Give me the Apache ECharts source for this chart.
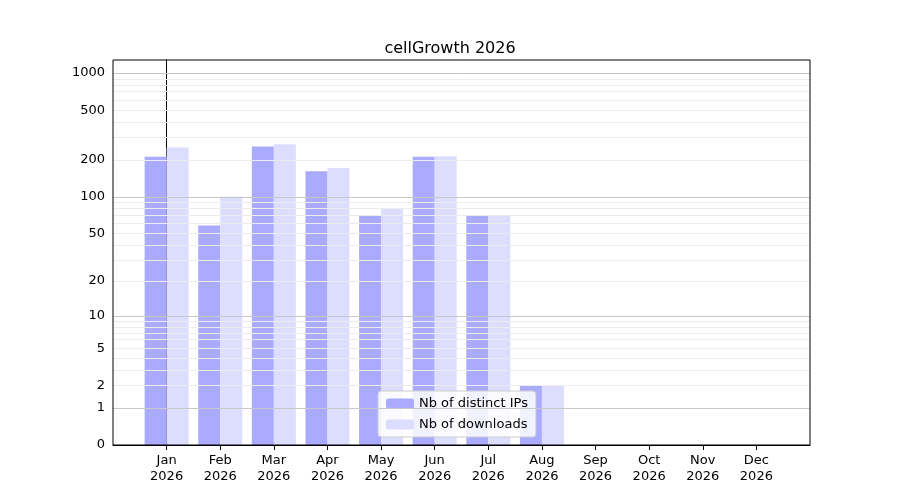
<!DOCTYPE html>
<html>
<head>
<meta charset="utf-8">
<script src="https://cdn.jsdelivr.net/npm/echarts@6/dist/echarts.min.js"></script>
</head>
<body style="margin:0;background:#fff">
<div id="main" style="width:900px;height:500px"></div>
<script>
var months = ['Jan','Feb','Mar','Apr','May','Jun','Jul','Aug','Sep','Oct','Nov','Dec'];
var year = '2026';
var distinctIPs = [210, 58, 255, 160, 70, 210, 70, 2, 0, 0, 0, 0];
var downloads = [250, 100, 265, 170, 80, 212, 70, 2, 0, 0, 0, 0];
var tickValues = [0, 1, 2, 5, 10, 20, 50, 100, 200, 500, 1000];
var majorGrid = [1, 10, 100, 1000];
var minorGrid = [2,3,4,5,6,7,8,9,20,30,40,50,60,70,80,90,200,300,400,500,600,700,800,900];

// axis is log10(1+x)
function t(v) { return Math.log10(1 + v); }
var tickPos = tickValues.map(t);
var monthPos = months.map(function (m, i) { return i; });

var myChart = echarts.init(document.getElementById('main'));
var lineStyleMajor = {color: '#c8c8c8', width: 1, type: 'solid'};
var lineStyleMinor = {color: '#ececec', width: 1, type: 'solid'};
var gridLines = minorGrid.map(function (v) { return {yAxis: t(v), lineStyle: lineStyleMinor}; })
    .concat(majorGrid.map(function (v) { return {yAxis: t(v), lineStyle: lineStyleMajor}; }));

myChart.setOption({
    animation: false,
    title: {text: 'cellGrowth ' + year, left: 'center', top: 36,
        textStyle: {fontFamily: 'DejaVu Sans', fontSize: 16, fontWeight: 'normal', color: '#000'}},
    grid: {left: 113, right: 90, top: 60, bottom: 55, show: true, borderColor: '#000', borderWidth: 1, z: 10},
    legend: {
        orient: 'vertical', left: 378, top: 391,
        backgroundColor: 'rgba(255,255,255,0.85)', borderColor: '#ccc', borderWidth: 1, borderRadius: 3,
        padding: [6, 8], itemGap: 8, itemWidth: 28, itemHeight: 10,
        textStyle: {fontFamily: 'DejaVu Sans', fontSize: 13, color: '#000'},
        data: ['Nb of distinct IPs', 'Nb of downloads']
    },
    xAxis: {
        type: 'value', min: -1, max: 12,
        splitLine: {show: false},
        axisLine: {onZero: false, lineStyle: {color: '#000'}},
        axisTick: {customValues: monthPos, lineStyle: {color: '#000'}},
        axisLabel: {customValues: monthPos, fontFamily: 'DejaVu Sans', fontSize: 13, color: '#000', lineHeight: 16,
            formatter: function (v) { return months[Math.round(v)] + '\n' + year; }}
    },
    yAxis: {
        type: 'value', min: 0, max: 3.105,
        axisLine: {show: true, lineStyle: {color: '#000'}},
        axisTick: {show: true, customValues: tickPos, lineStyle: {color: '#000'}},
        axisLabel: {
            customValues: tickPos,
            fontFamily: 'DejaVu Sans', fontSize: 13, color: '#000',
            formatter: function (v) { return String(Math.round(Math.pow(10, v) - 1)); }
        },
        splitLine: {show: false}
    },
    series: [
        {name: 'Nb of distinct IPs', type: 'bar', barGap: '0%', barWidth: 22,
            itemStyle: {color: '#aaaaff'}, data: distinctIPs.map(function (v, i) { return [i, t(v)]; }),
            markLine: {silent: true, symbol: 'none', label: {show: false}, data: gridLines}},
        {name: 'Nb of downloads', type: 'bar', barWidth: 22,
            itemStyle: {color: '#ddddff'}, data: downloads.map(function (v, i) { return [i, t(v)]; })}
    ]
});
</script>
</body>
</html>
